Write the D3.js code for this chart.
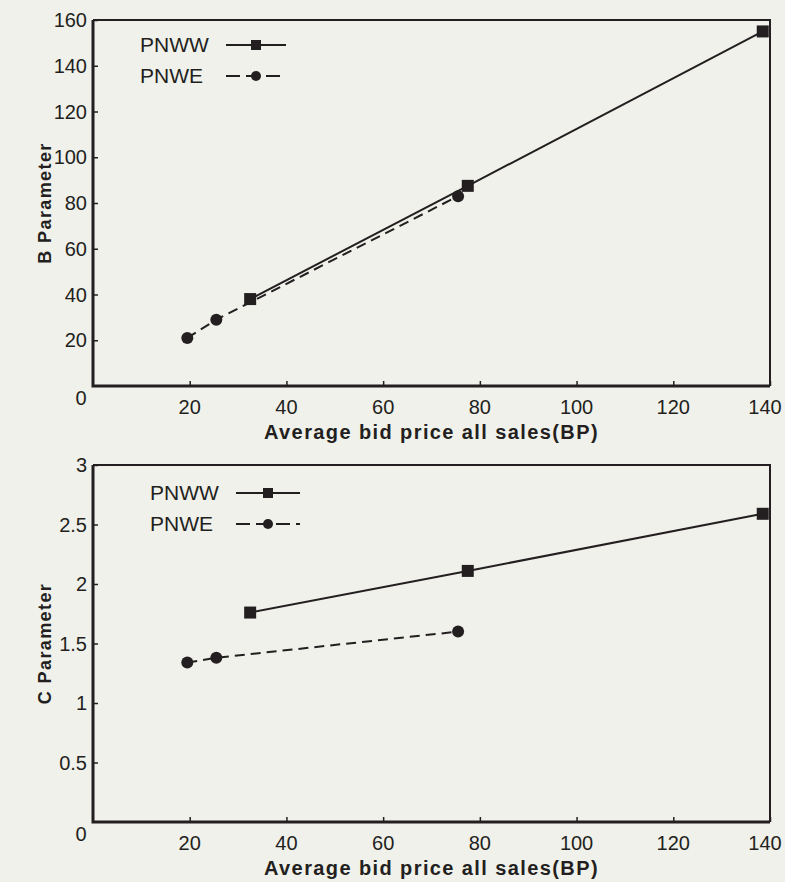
<!DOCTYPE html>
<html>
<head>
<meta charset="utf-8">
<script src="https://cdn.jsdelivr.net/npm/d3@7"></script>
<style>
  body { margin: 0; background: #f1f1eb; }
  svg { display: block; font-family: "Liberation Sans", Arial, sans-serif; }
</style>
</head>
<body>
<div id="chart"></div>
<script>
// x values shared by both panels
const wwX = [32.5, 77.5, 138.5];
const weX = [19.5, 25.5, 75.5];

// B parameter
const wwB = [38, 87.5, 155];
const weB = [21, 29, 83];

// C parameter
const wwC = [1.76, 2.11, 2.59];
const weC = [1.34, 1.38, 1.6];

const xTicks = [20, 40, 60, 80, 100, 120, 140];
const bTicks = [20, 40, 60, 80, 100, 120, 140, 160];
const cTicks = [0.5, 1, 1.5, 2, 2.5, 3];

const ink = "#231f20";
const svg = d3.select("#chart").append("svg")
  .attr("width", 785).attr("height", 882);

const x = d3.scaleLinear().domain([0, 140]).range([93, 770]);

function panel(opts) {
  const y = d3.scaleLinear().domain([0, opts.ymax]).range([opts.bottom, opts.top]);
  const g = svg.append("g");

  // frame: thin top/right, heavy left/bottom
  g.append("path")
    .attr("d", `M${x(0)},${opts.top}H${x(140)}V${opts.bottom}`)
    .attr("fill", "none").attr("stroke", ink).attr("stroke-width", 2);
  g.append("path")
    .attr("d", `M${x(0)},${opts.top}V${opts.bottom}H${x(140)}`)
    .attr("fill", "none").attr("stroke", ink).attr("stroke-width", 3);

  // y axis, ticks point inward
  const ya = g.append("g").attr("transform", `translate(${x(0)},0)`)
    .call(d3.axisRight(y).tickValues(opts.yTicks).tickSize(5).tickFormat(""));
  ya.select(".domain").remove();
  ya.selectAll("line").attr("stroke", ink).attr("stroke-width", 1.5);
  g.selectAll(".ylab").data(opts.yTicks).join("text")
    .attr("x", x(0) - 6).attr("y", d => y(d)).attr("dy", "0.35em")
    .attr("text-anchor", "end").attr("font-size", 20).attr("fill", ink)
    .text(d => d);
  g.append("text").attr("x", x(0) - 12).attr("y", opts.bottom + 12)
    .attr("dy", "0.35em").attr("text-anchor", "middle")
    .attr("font-size", 20).attr("fill", ink).text("0");

  // x axis, ticks point inward
  const xa = g.append("g").attr("transform", `translate(0,${opts.bottom})`)
    .call(d3.axisTop(x).tickValues(xTicks).tickSize(5).tickFormat(""));
  xa.select(".domain").remove();
  xa.selectAll("line").attr("stroke", ink).attr("stroke-width", 1.5);
  g.selectAll(".xlab").data(xTicks).join("text")
    .attr("x", d => Math.min(x(d), 765)).attr("y", opts.bottom + 21).attr("dy", "0.35em")
    .attr("text-anchor", "middle").attr("font-size", 20).attr("fill", ink)
    .text(d => d);

  g.append("text").attr("x", (x(0) + x(140)) / 2).attr("y", opts.bottom + 53)
    .attr("text-anchor", "middle").attr("font-size", 20).attr("font-weight", "bold")
    .attr("letter-spacing", 1.4).attr("fill", ink).text("Average bid price all sales(BP)");
  g.append("text")
    .attr("transform", `translate(51,${(opts.top + opts.bottom) / 2}) rotate(-90)`)
    .attr("text-anchor", "middle").attr("font-size", 18).attr("font-weight", "bold")
    .attr("letter-spacing", 1.4).attr("fill", ink).text(opts.ytitle);

  const line = d3.line().x(d => x(d[0])).y(d => y(d[1]));
  const ww = wwX.map((v, i) => [v, opts.ww[i]]);
  const we = weX.map((v, i) => [v, opts.we[i]]);

  g.append("path").datum(we).attr("d", line).attr("fill", "none")
    .attr("stroke", ink).attr("stroke-width", 2).attr("stroke-dasharray", "10,6");
  g.append("path").datum(ww).attr("d", line).attr("fill", "none")
    .attr("stroke", ink).attr("stroke-width", 2);
  g.selectAll(".sq").data(ww).join("rect")
    .attr("x", d => x(d[0]) - 6).attr("y", d => y(d[1]) - 6)
    .attr("width", 12).attr("height", 12).attr("fill", ink);
  g.selectAll(".ci").data(we).join("circle")
    .attr("cx", d => x(d[0])).attr("cy", d => y(d[1])).attr("r", 6).attr("fill", ink);

  // legend
  const lx = opts.legX, ly = opts.legY, lw = opts.legW;
  g.append("text").attr("x", lx).attr("y", ly).attr("dy", "0.35em")
    .attr("font-size", 21).attr("fill", ink).text("PNWW");
  g.append("text").attr("x", lx).attr("y", ly + 31).attr("dy", "0.35em")
    .attr("font-size", 21).attr("fill", ink).text("PNWE");
  g.append("line").attr("x1", lx + 86).attr("x2", lx + 86 + lw).attr("y1", ly).attr("y2", ly)
    .attr("stroke", ink).attr("stroke-width", 2);
  g.append("rect").attr("x", lx + 86 + lw / 2 - 5).attr("y", ly - 5)
    .attr("width", 10).attr("height", 10).attr("fill", ink);
  g.append("line").attr("x1", lx + 86).attr("x2", lx + 86 + lw).attr("y1", ly + 31).attr("y2", ly + 31)
    .attr("stroke", ink).attr("stroke-width", 2).attr("stroke-dasharray", "14,6");
  g.append("circle").attr("cx", lx + 86 + lw / 2).attr("cy", ly + 31).attr("r", 5).attr("fill", ink);
}

panel({ top: 20, bottom: 386, ymax: 160, yTicks: bTicks, ww: wwB, we: weB,
  ytitle: "B Parameter", legX: 140, legY: 45, legW: 60 });
panel({ top: 465, bottom: 822, ymax: 3, yTicks: cTicks, ww: wwC, we: weC,
  ytitle: "C Parameter", legX: 150, legY: 493, legW: 64 });
</script>
</body>
</html>
